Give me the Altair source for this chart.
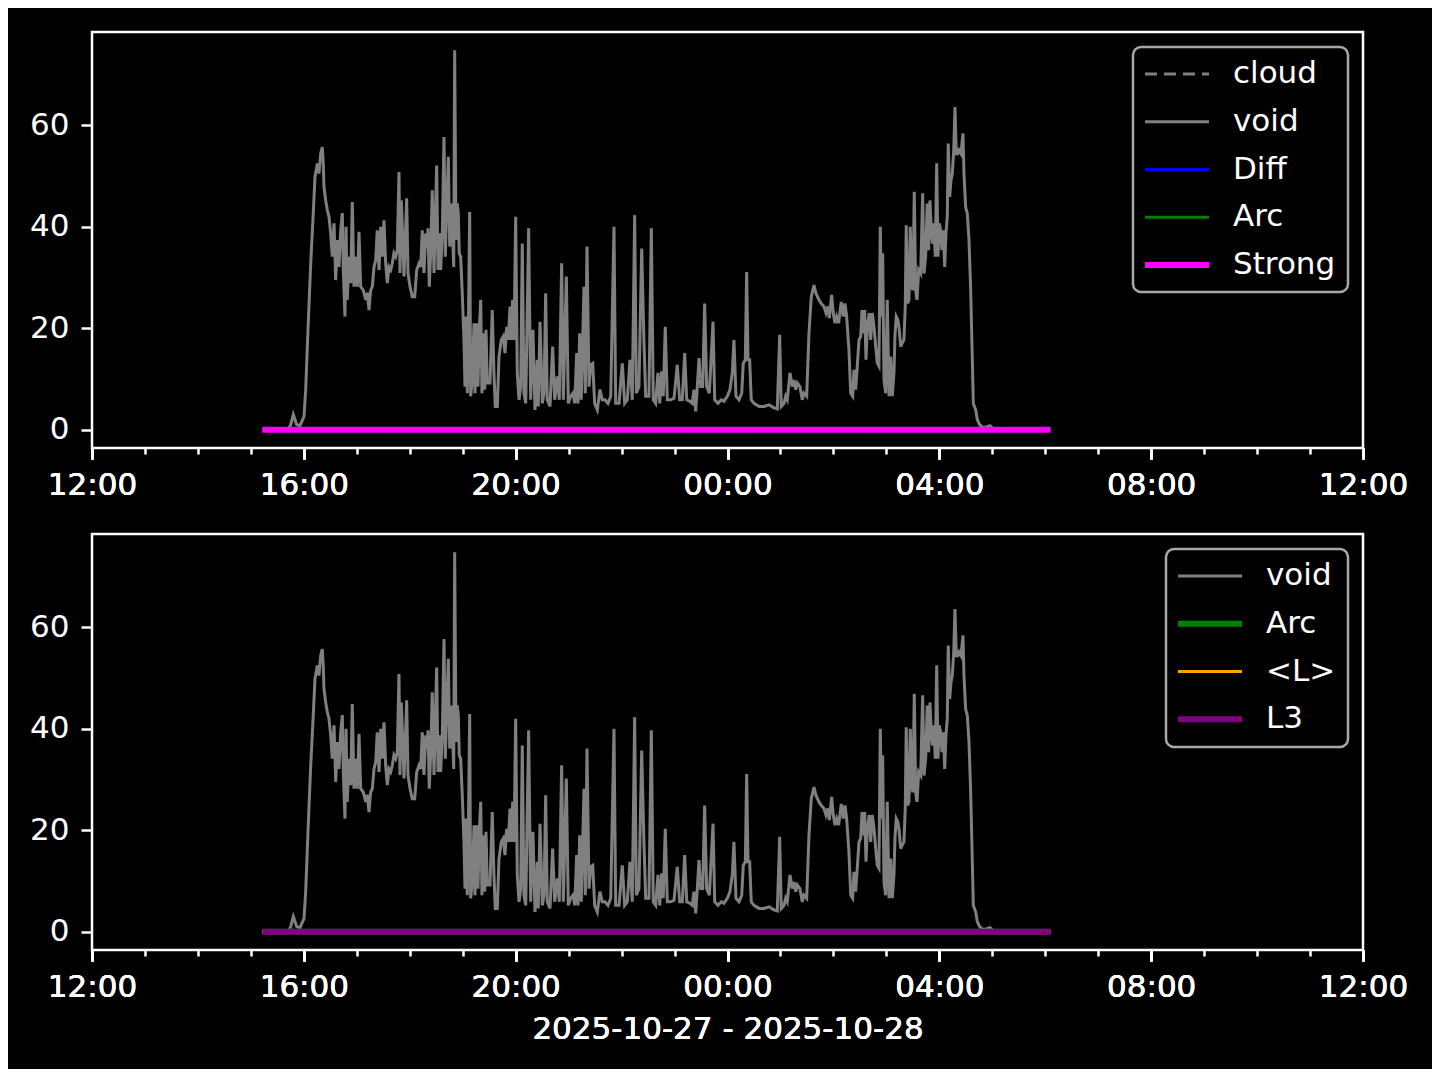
import altair as alt
import pandas as pd

BASE = "2025-10-27 12:00"
X_TITLE = "2025-10-27 - 2025-10-28"

# "void" series: minutes after 2025-10-27 12:00 and values
void_min = [
    223.2, 225.1, 228.1, 231.9, 235.6, 240.2, 242.1, 244.7, 247.8, 250.7,
    252.6, 255.3, 257.2, 259.1, 260.9, 262.0, 262.8, 264.8, 266.6, 268.5,
    270.4, 272.2, 274.2, 276.1, 277.9, 279.8, 281.8, 283.6, 284.7, 286.6,
    287.8, 289.2, 291.2, 293.1, 294.9, 296.8, 298.8, 300.6, 302.5, 304.4,
    307.4, 310.1, 311.9, 313.8, 315.7, 317.6, 319.5, 321.4, 323.2, 325.2,
    327.1, 328.9, 330.8, 332.7, 334.6, 336.5, 338.4, 340.2, 342.1, 344.1,
    345.9, 347.8, 348.9, 350.4, 351.5, 353.5, 356.5, 358.0, 360.3, 362.9,
    365.6, 367.9, 370.5, 372.4, 374.2, 376.1, 378.1, 379.9, 380.7, 382.1,
    383.7, 385.5, 387.5, 388.6, 390.5, 392.0, 393.5, 395.0, 396.9, 398.8,
    400.3, 401.9, 403.7, 405.3, 406.7, 408.2, 409.8, 410.9, 412.4, 413.9,
    415.0, 416.1, 417.7, 419.5, 421.4, 422.6, 423.7, 425.2, 426.3, 427.9,
    429.0, 430.9, 432.8, 433.9, 435.8, 437.3, 438.8, 440.4, 441.8, 443.3,
    444.9, 446.4, 447.8, 450.9, 453.5, 455.4, 456.9, 459.2, 461.1, 463.7,
    466.0, 467.9, 469.8, 471.6, 473.6, 475.0, 476.6, 478.1, 480.0, 481.8,
    483.8, 485.7, 487.5, 489.4, 491.4, 494.7, 497.0, 499.6, 501.9, 504.5,
    505.6, 507.6, 510.2, 512.1, 514.0, 515.8, 518.9, 521.9, 524.2, 527.2,
    529.4, 532.1, 534.0, 537.4, 539.6, 542.3, 544.9, 546.9, 549.1, 550.6,
    552.5, 554.3, 557.4, 558.9, 560.8, 563.1, 565.0, 567.3, 569.5, 572.5,
    575.5, 578.1, 581.2, 584.6, 587.7, 591.4, 593.3, 597.1, 600.8, 603.5,
    606.5, 609.5, 612.1, 614.8, 616.7, 619.7, 622.8, 625.4, 627.3, 631.0,
    633.7, 635.9, 638.6, 641.2, 643.2, 645.4, 647.2, 649.5, 651.8, 655.6,
    659.4, 663.1, 665.8, 668.8, 671.5, 673.8, 677.5, 680.1, 682.0, 684.0,
    685.8, 687.7, 689.6, 691.9, 694.1, 696.4, 699.4, 703.6, 705.5, 709.2,
    713.0, 716.0, 719.8, 722.8, 725.4, 727.3, 729.6, 733.0, 736.1, 737.9,
    740.2, 741.7, 743.2, 745.1, 746.9, 750.0, 755.7, 761.3, 767.0, 772.7,
    776.4, 779.1, 780.9, 784.0, 785.9, 787.7, 790.8, 793.4, 795.3, 797.3,
    799.1, 802.1, 804.7, 806.6, 809.7, 812.3, 814.9, 818.0, 820.2, 823.6,
    826.2, 829.3, 831.6, 833.8, 835.3, 838.0, 839.8, 841.8, 843.7, 845.9,
    848.9, 851.2, 853.1, 855.0, 857.6, 859.6, 861.8, 863.3, 865.2, 867.0,
    869.0, 870.9, 872.4, 873.8, 875.4, 876.9, 878.4, 880.6, 882.2, 884.0,
    886.0, 887.9, 889.7, 891.6, 893.1, 894.7, 895.8, 897.3, 899.2, 901.0,
    903.0, 904.9, 906.7, 908.6, 909.7, 911.2, 913.1, 914.6, 916.2, 918.0,
    919.9, 921.4, 922.5, 924.1, 925.6, 927.1, 928.7, 930.1, 931.6, 933.2,
    934.7, 936.6, 938.9, 941.1, 942.6, 944.5, 946.3, 947.9, 949.4, 950.9,
    952.4, 953.9, 955.4, 957.0, 958.5, 959.9, 961.5, 963.0, 964.5, 966.1,
    967.5, 969.0, 970.1, 971.7, 973.2, 974.7, 976.3, 977.7, 979.2, 980.8,
    982.2, 984.5, 986.8, 987.9, 989.8, 991.7, 993.6, 995.5, 997.3, 998.5,
    1001.2, 1003.0, 1005.7, 1008.7, 1012.5, 1017.4, 1020.0,
]
void_val = [
    0.3, 1.0, 3.0, 1.0, 0.8, 2.6, 7.9, 19.7, 32.8, 42.7,
    49.8, 52.5, 50.5, 54.5, 55.7, 52.5, 47.9, 45.2, 43.3, 42.0,
    38.7, 34.1, 40.7, 29.5, 37.4, 32.1, 39.3, 42.7, 31.5, 22.3,
    40.0, 25.6, 34.1, 28.9, 44.9, 28.2, 34.1, 28.2, 39.0, 28.2,
    27.5, 25.6, 27.0, 23.6, 27.5, 28.2, 32.1, 33.4, 39.3, 31.5,
    40.0, 34.1, 41.3, 32.8, 28.9, 32.1, 31.5, 32.8, 34.8, 34.1,
    35.4, 50.8, 30.9, 45.2, 40.0, 30.2, 45.6, 30.9, 28.2, 26.2,
    26.2, 31.5, 32.8, 32.1, 39.3, 30.9, 38.7, 36.1, 39.7, 28.2,
    34.8, 47.2, 30.9, 39.3, 52.1, 31.5, 38.7, 31.5, 38.7, 57.7,
    34.1, 43.9, 53.8, 36.1, 44.6, 40.0, 32.1, 74.8, 37.4, 44.6,
    42.6, 34.8, 34.1, 26.9, 17.7, 8.5, 22.3, 7.2, 19.0, 42.9,
    6.6, 9.8, 21.0, 7.2, 21.0, 8.5, 19.7, 25.6, 7.2, 19.0,
    7.9, 19.7, 9.2, 9.2, 23.6, 11.2, 4.6, 4.6, 14.4, 17.7,
    18.4, 15.1, 20.3, 17.7, 24.3, 17.7, 25.6, 17.7, 42.0, 11.2,
    5.9, 8.5, 36.7, 7.2, 5.2, 39.7, 5.9, 19.7, 3.9, 13.8,
    4.6, 21.3, 5.2, 7.2, 26.9, 5.9, 4.6, 16.4, 5.9, 10.5,
    5.9, 32.8, 5.9, 30.2, 5.2, 6.6, 7.2, 5.2, 15.1, 5.2,
    19.0, 5.9, 28.2, 7.2, 36.1, 8.5, 12.8, 13.1, 5.2, 3.9,
    7.9, 5.9, 5.9, 5.2, 6.6, 40.0, 5.2, 5.2, 13.1, 5.2,
    5.9, 13.8, 5.9, 42.3, 7.2, 8.5, 35.7, 17.1, 6.6, 6.6,
    39.7, 5.9, 5.2, 11.2, 5.2, 11.5, 6.6, 20.3, 5.9, 5.9,
    6.2, 12.8, 5.9, 5.9, 15.1, 5.9, 5.6, 5.2, 7.9, 3.6,
    8.5, 14.1, 8.5, 8.5, 24.9, 8.5, 7.2, 21.3, 5.9, 5.2,
    5.9, 5.6, 6.6, 7.9, 11.2, 17.7, 6.6, 5.9, 7.2, 13.1,
    13.8, 31.1, 13.8, 13.8, 5.9, 5.2, 4.6, 4.6, 4.9, 4.3,
    4.1, 18.7, 4.6, 5.2, 6.6, 5.9, 11.2, 8.5, 9.8, 7.9,
    9.2, 8.5, 5.9, 7.2, 6.6, 19.0, 26.2, 28.5, 26.9, 25.6,
    24.9, 24.3, 23.0, 24.3, 22.0, 26.6, 23.0, 21.0, 22.3, 21.0,
    25.2, 22.3, 24.9, 22.3, 15.7, 7.2, 6.6, 11.8, 7.9, 12.5,
    17.7, 18.4, 23.6, 19.0, 23.6, 13.8, 20.3, 23.0, 17.7, 23.0,
    20.3, 16.4, 13.1, 12.5, 40.0, 22.3, 34.8, 9.8, 7.2, 25.6,
    6.6, 14.4, 6.6, 11.2, 18.4, 22.3, 21.6, 19.7, 16.4, 17.1,
    17.7, 24.3, 40.3, 24.9, 25.6, 40.0, 28.2, 27.5, 46.9, 27.5,
    25.6, 31.5, 30.8, 46.6, 30.8, 34.1, 44.6, 35.4, 45.2, 39.3,
    36.7, 40.7, 34.1, 52.5, 34.1, 40.7, 39.3, 35.4, 39.3, 32.1,
    38.7, 42.0, 56.4, 45.9, 49.2, 50.5, 55.1, 63.6, 54.4, 54.4,
    55.1, 54.4, 58.4, 50.5, 43.9, 42.6, 37.4, 27.5, 14.4, 5.2,
    3.9, 2.0, 1.0, 0.5, 0.5, 0.8, 0.4,
]

# constant zero series span
zero_start = "2025-10-27 15:13"
zero_end = "2025-10-28 06:06"

top_series = ["cloud", "void", "Diff", "Arc", "Strong"]
top_colors = ["#808080", "#808080", "#0000ff", "#008000", "#ff00ff"]
top_widths = [3, 3, 3, 3, 6]
top_dashes = [[12, 7], [1, 0], [1, 0], [1, 0], [1, 0]]
top_zero = ["Diff", "Arc", "Strong"]

bot_series = ["void", "Arc", "<L>", "L3"]
bot_colors = ["#808080", "#008000", "#ffa500", "#800080"]
bot_widths = [3, 6, 3, 6]
bot_dashes = [[1, 0], [1, 0], [1, 0], [1, 0]]
bot_zero = ["Arc", "<L>", "L3"]

y_ticks = [0, 20, 40, 60]
# x ticks: (day, hour) pairs, October 2025
major_ticks = [(27, 12), (27, 16), (27, 20), (28, 0), (28, 4), (28, 8), (28, 12)]
minor_ticks = [(27, h) for h in range(12, 24)] + [(28, h) for h in range(0, 13)]

FONT = "DejaVu Sans"
FS = 31

void_df = pd.DataFrame({
    "time": pd.Timestamp(BASE) + pd.to_timedelta(void_min, unit="min"),
    "value": void_val,
})


def zero_df(name):
    return pd.DataFrame({
        "time": pd.to_datetime([zero_start, zero_end]),
        "value": [0.0, 0.0],
        "series": [name, name],
    })


def dt(d, h):
    return alt.DateTime(year=2025, month=10, date=d, hours=h)


x_scale = alt.Scale(domain=[dt(27, 12), dt(28, 12)])
y_scale = alt.Scale(domain=[-3.6, 78.4], nice=False, zero=False)
y_axis = alt.Axis(values=y_ticks, tickSize=11, labelPadding=12)


def panel(series, colors, widths, dashes, zeros, title):
    legend = alt.Legend(
        title=None, orient="top-right", offset=15, padding=12,
        fillColor="black", strokeColor="#a8a8a8", cornerRadius=8,
        labelColor="white", labelFont=FONT, labelFontSize=FS,
        labelOffset=21, symbolOffset=-3, symbolType="stroke", symbolSize=4096,
        clipHeight=30, rowPadding=16.75, labelBaseline="middle",
    )
    enc = dict(
        x=alt.X("time:T", scale=x_scale, title=title,
                axis=alt.Axis(
                    orient="bottom",
                    values=[dt(d, h) for d, h in major_ticks],
                    format="%H:%M", tickSize=11,
                    labelOverlap=False, labelFlush=False, labelPadding=11,
                    titlePadding=12,
                )),
        y=alt.Y("value:Q", scale=y_scale, title=None, axis=y_axis),
        color=alt.Color("series:N", scale=alt.Scale(domain=series, range=colors), legend=legend, sort=series),
        strokeDash=alt.StrokeDash("series:N", scale=alt.Scale(domain=series, range=dashes), legend=legend, sort=series),
        strokeWidth=alt.StrokeWidth("series:N", scale=alt.Scale(type="ordinal", domain=series, range=widths), legend=legend, sort=series),
    )
    vdf = void_df.assign(series="void")
    layers = [alt.Chart(vdf).mark_line().encode(**enc)]
    for z in zeros:
        layers.append(alt.Chart(zero_df(z)).mark_line().encode(**enc))
    # minor hourly ticks on a second, label-less bottom axis
    minor = alt.Chart(vdf).mark_line(opacity=0).encode(
        x=alt.X("time:T", scale=x_scale, title=None,
                axis=alt.Axis(orient="bottom", values=[dt(d, h) for d, h in minor_ticks],
                              labels=False, tickSize=6, domain=False)),
        y=alt.Y("value:Q", scale=y_scale, title=None, axis=y_axis),
    )
    layers.append(minor)
    return alt.layer(*layers).resolve_axis(x="independent").properties(width=1271, height=416)


top = panel(top_series, top_colors, top_widths, top_dashes, top_zero, None)
bot = panel(bot_series, bot_colors, bot_widths, bot_dashes, bot_zero, X_TITLE)

chart = alt.vconcat(top, bot, spacing=30).resolve_scale(
    color="independent", strokeDash="independent", strokeWidth="independent"
).resolve_legend(
    color="independent", strokeDash="independent", strokeWidth="independent"
).properties(
    padding={"left": 20, "top": 22, "right": 23, "bottom": 23},
    background="black",
).configure_view(
    stroke="white", strokeWidth=2.5, fill="black",
).configure_axis(
    domain=False, grid=False, labelColor="white", tickColor="white",
    tickWidth=2.5, labelFont=FONT, labelFontSize=FS, titleFont=FONT,
    titleFontSize=FS, titleColor="white", titleFontWeight="normal",
).configure_legend(
    strokeWidth=2.5,
)

chart.save("out.html", embed_options={"renderer": "svg", "actions": False})
